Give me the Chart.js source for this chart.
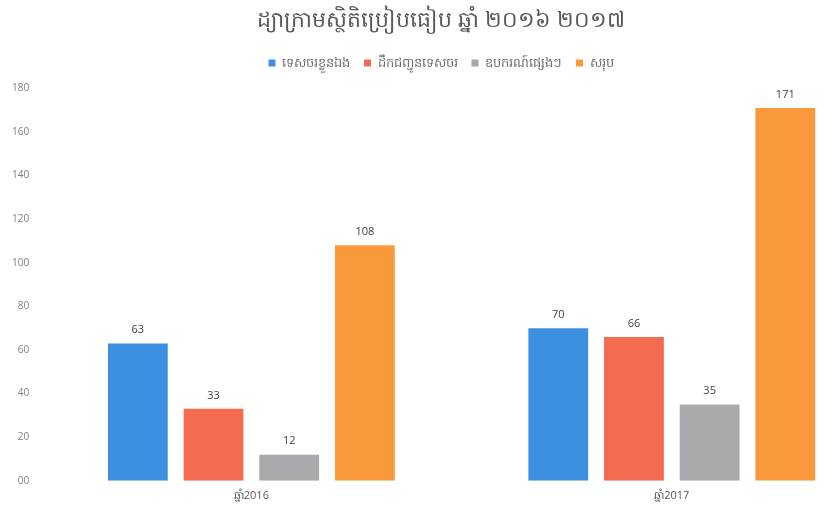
<!DOCTYPE html>
<html>
<head>
<meta charset="utf-8">
<script src="https://cdn.jsdelivr.net/npm/chart.js@4.4.0/dist/chart.umd.min.js"></script>
<style>
  html, body { margin: 0; padding: 0; background: #ffffff; overflow: hidden; }
  #wrap { width: 833px; height: 510px; overflow: hidden; }
</style>
</head>
<body>
<div id="wrap">
  <canvas id="chartStats" width="900" height="510"></canvas>
</div>
<script>
  /* Datos del grafico */
  var years = ['ឆ្នាំ2016', 'ឆ្នាំ2017'];
  var seriesNames = ['ទេសចរខ្លួនឯង', 'ដឹកជញ្ជូនទេសចរ', 'ឧបករណ៍ផ្សេងៗ', 'សរុប'];
  var seriesColors = ['#3d8fe2', '#f36b50', '#a7a9ad', '#fa983c'];
  var serie1 = [63, 70];
  var serie2 = [33, 66];
  var serie3 = [12, 35];
  var total = [108, 171];
  var yTicks = [0, 20, 40, 60, 80, 100, 120, 140, 160, 180];

  var allSeries = [serie1, serie2, serie3, total];
  var datasets = [];
  for (i = 0; i < allSeries.length; i++) {
    datasets.push({
      label: seriesNames[i],
      data: allSeries[i],
      backgroundColor: seriesColors[i],
      borderWidth: 0,
      barPercentage: 0.79,
      categoryPercentage: 0.72,
    });
  }

  /* Etiquetas encima de las barras (sin plugin externo) */
  var barLabels = {
    id: 'barLabels',
    afterDatasetsDraw: function (chart) {
      var ctx = chart.ctx;
      ctx.save();
      ctx.font = '11px "Open Sans", sans-serif';
      ctx.fillStyle = '#404040';
      ctx.textAlign = 'center';
      ctx.textBaseline = 'bottom';
      chart.data.datasets.forEach(function (ds, di) {
        chart.getDatasetMeta(di).data.forEach(function (bar, idx) {
          ctx.fillText(ds.data[idx], bar.x, bar.y - 8);
        });
      });
      ctx.restore();
    },
  };

  /* Espacio extra debajo de la leyenda */
  var legendMargin = {
    id: 'legendMargin',
    beforeInit: function (chart) {
      var fitValue = chart.legend.fit;
      chart.legend.fit = function fit() {
        fitValue.bind(chart.legend)();
        this.height += 9;
      };
    },
  };

  const cmc = document.getElementById('chartStats');
  var chartStats = new Chart(cmc, {
    type: 'bar',
    plugins: [barLabels, legendMargin],
    data: {
      labels: years,
      datasets: datasets,
    },
    options: {
      responsive: false,
      animation: false,
      layout: {
        padding: { left: 0, right: 18, top: 4, bottom: 0 },
      },
      scales: {
        x: {
          grid: { display: false, drawTicks: false },
          border: { display: false },
          ticks: {
            color: '#595959',
            padding: 8,
            font: { size: 11, family: '"Open Sans", sans-serif' },
          },
        },
        y: {
          min: 0,
          max: 180,
          afterBuildTicks: function (axis) {
            axis.ticks = yTicks.map(function (v) { return { value: v }; });
          },
          grid: { display: false, drawTicks: false },
          border: { display: false },
          ticks: {
            color: '#7f7f7f',
            padding: 12,
            font: { size: 10, family: '"Open Sans", sans-serif' },
            callback: function (value) {
              return value === 0 ? '00' : value;
            },
          },
        },
      },
      plugins: {
        title: {
          display: true,
          text: 'ដ្យាក្រាមស្ថិតិប្រៀបធៀប ឆ្នាំ ២០១៦ ២០១៧',
          color: '#595959',
          font: { size: 22, weight: 'normal', family: '"Noto Sans", sans-serif' },
          padding: { top: 4, bottom: 8 },
        },
        legend: {
          display: true,
          position: 'top',
          labels: {
            boxWidth: 7,
            boxHeight: 7,
            padding: 14,
            color: '#6f6f6f',
            font: { size: 13, family: '"Noto Sans", sans-serif' },
          },
        },
        tooltip: { enabled: false },
      },
    },
  });
</script>
</body>
</html>
